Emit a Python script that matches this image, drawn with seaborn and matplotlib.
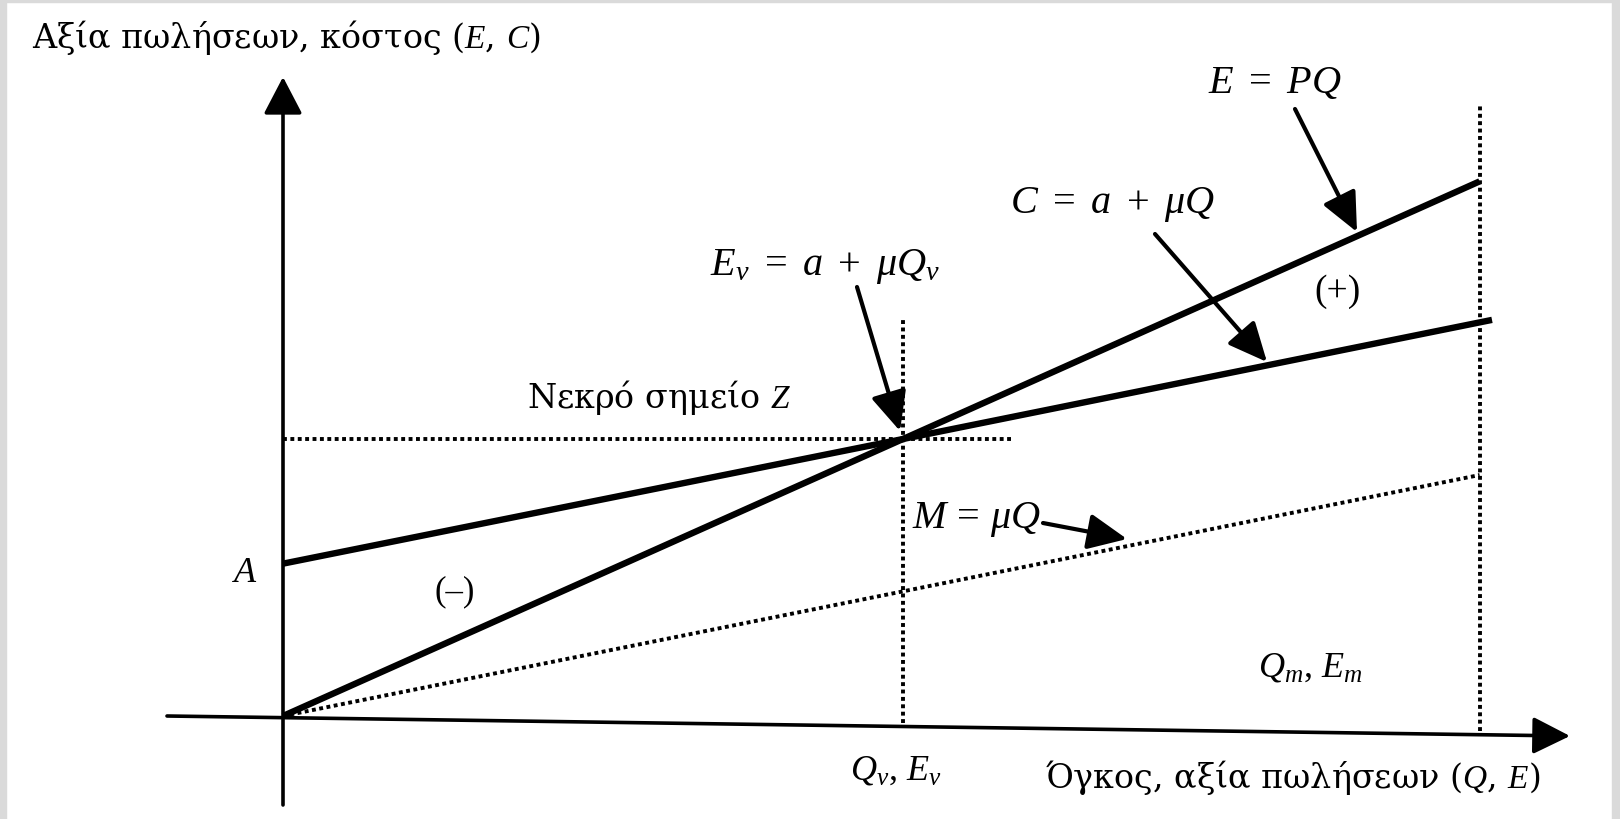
import numpy as np
import pandas as pd
import matplotlib.pyplot as plt
import seaborn as sns

sns.set_theme(style="white")
plt.rcParams["font.family"] = ["Liberation Serif", "DejaVu Serif"]
plt.rcParams["mathtext.fontset"] = "custom"
plt.rcParams["mathtext.rm"] = "Liberation Serif"
plt.rcParams["mathtext.it"] = "Liberation Serif:italic"

# ── values (arbitrary units) ──────────────────────────────────────────
quantity = [0.0, 10.0, 19.3]     # 0, Q_v, Q_m
revenue = [0.0, 10.0, 19.3]      # E = PQ
cost_q = [0.0, 10.0, 19.5]
cost = [5.5, 10.0, 14.3]         # C = a + μQ
variable = [0.0, 4.5, 8.7]       # M = μQ
q_v, e_v = 10.0, 10.0
q_m = 19.3

# pixel -> data helper (used only for placing labels / arrows)
X0, Y0, SX, SY = 283, 717, 62.0, 27.7
def px(x, y):
    return ((x - X0) / SX, (Y0 - y) / SY)

fig = plt.figure(figsize=(16.2, 8.2), dpi=100)
fig.patch.set_facecolor("white")
ax = fig.add_axes([0, 0, 1, 1])
ax.set_xlim(px(0, 0)[0], px(1620, 0)[0])
ax.set_ylim(px(0, 820)[1], px(0, 0)[1])
ax.set_axis_off()

# scanned-page grey border
for rect in [(0, 0, 0.004, 1), (0, 0.996, 1, 0.004), (0.995, 0, 0.005, 1)]:
    fig.patches.append(plt.Rectangle(rect[:2], rect[2], rect[3], transform=fig.transFigure,
                                     color="#dadada", zorder=0))

dots = dict(color="black", lw=2.8, linestyle=(0, (1, 0.9)), dash_capstyle="butt")

# ── dotted guides ──
ax.plot([q_v, q_v], [-0.25, px(0, 318)[1]], **dots)
ax.plot([q_m, q_m], [-0.55, px(0, 107)[1]], **dots)
ax.plot([0, px(1012, 0)[0]], [e_v, e_v], **dots)
sns.lineplot(x=quantity, y=variable, ax=ax, **dots)

# ── revenue & cost lines ──
sns.lineplot(x=quantity, y=revenue, ax=ax, color="black", lw=4.6, solid_capstyle="butt")
sns.lineplot(x=cost_q, y=cost, ax=ax, color="black", lw=4.6, solid_capstyle="butt")

# ── axes with arrow heads ──
def arrow(p0, p1, lw, hl, hw):
    ax.annotate("", xy=px(*p1), xytext=px(*p0),
                arrowprops=dict(arrowstyle=f"-|>,head_length={hl},head_width={hw}",
                                color="black", lw=lw, shrinkA=0, shrinkB=0,
                                mutation_scale=10))

arrow((283, 806), (283, 78), 2.6, 2.3, 1.2)
arrow((167, 717), (1570, 737), 2.6, 2.3, 1.15)

# ── pointer arrows ──
arrow((1295, 110), (1357, 233), 3.0, 2.4, 1.1)
arrow((1155, 235), (1267, 363), 3.0, 2.4, 1.1)
arrow((857, 288), (900, 432), 3.0, 2.4, 1.1)
arrow((1043, 524), (1127, 540), 3.0, 2.4, 1.1)

# ── text ──
lab = 24
frm = 29
greek = ["DejaVu Serif"]
def txt(x, y, s, size, ha="left", va="baseline", family=None):
    ax.text(*px(x, y), s, fontsize=size, ha=ha, va=va, color="black",
            family=family if family else ["Liberation Serif", "DejaVu Serif"])

txt(32, 48, r"Αξία πωλήσεων, κόστος ($E$, $C$)", lab, family=greek)
txt(1540, 788, r"Όγκος, αξία πωλήσεων ($Q$, $E$)", lab, ha="right", family=greek)
txt(850, 780, r"$Q_v$, $E_v$", 26)
txt(1258, 677, r"$Q_m$, $E_m$", 26)
txt(527, 408, r"Νεκρό σημείο $Z$", lab, family=greek)
txt(1208, 93, r"$E\ =\ PQ$", frm)
txt(1010, 213, r"$C\ =\ a\ +\ \mu Q$", frm)
txt(940, 275, r"$E_v\ =\ a\ +\ \mu Q_v$", frm, ha="right")
txt(912, 528, r"$M\,=\,\mu Q$", frm)
txt(245, 573, r"$A$", 26, ha="center", va="center")
txt(455, 592, "(–)", 25, ha="center", va="center")
txt(1338, 292, "(+)", 27, ha="center", va="center")

fig.savefig("out.png", dpi=100, facecolor="white")
